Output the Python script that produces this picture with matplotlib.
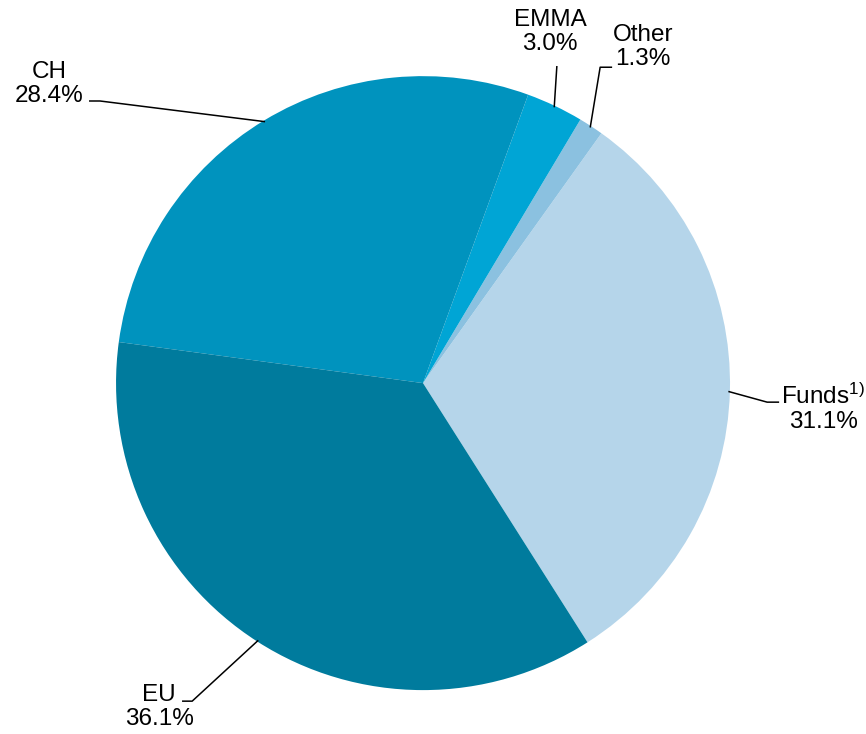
import matplotlib.pyplot as plt
import numpy as np

plt.rcParams['font.family'] = ['Liberation Sans', 'DejaVu Sans']
plt.rcParams['mathtext.default'] = 'regular'

# slice data, counter-clockwise from the Funds/EU border
labels = ['Funds$^{1)}$', 'Other', 'EMMA', 'CH', 'EU']
shares = [31.1, 1.3, 3.0, 28.4, 36.1]
colors = ['#b5d5ea', '#8bc1e0', '#00a5d5', '#0093be', '#007b9d']

# label layout (pie radius = 1): text centre, elbow of leader, end of the short tick
text_pos = [(1.303, -0.081), (0.717, 1.094), (0.414, 1.143), (-1.218, 0.974), (-0.860, -1.055)]
elbow_pos = [(1.121, -0.062), (0.577, 1.029), (0.436, 1.033), (-1.052, 0.919), (-0.752, -1.036)]
tick_end = [(1.160, -0.062), (0.616, 1.029), None, (-1.088, 0.919), (-0.785, -1.036)]

fig = plt.figure(figsize=(8.66, 7.34), dpi=100)
ax = fig.add_axes([0, 0, 1, 1])

wedges, _ = ax.pie(shares, colors=colors, startangle=-57.6, counterclock=True,
                   radius=1, center=(0, 0), wedgeprops=dict(linewidth=0))

for w, lab, val, tp, ep, te in zip(wedges, labels, shares, text_pos, elbow_pos, tick_end):
    mid = np.deg2rad((w.theta1 + w.theta2) / 2)
    sx, sy = np.cos(mid) * 0.995, np.sin(mid) * 0.995
    xs = [sx, ep[0]]
    ys = [sy, ep[1]]
    if te is not None:
        xs.append(te[0])
        ys.append(te[1])
    ax.plot(xs, ys, color='black', lw=1.1, solid_capstyle='butt')
    ax.text(tp[0], tp[1], f'{lab}\n{val:.1f}%', ha='center', va='center',
            fontsize=17.5, linespacing=1.12, color='black')

ax.set_xlim(-1.378, 1.443)
ax.set_ylim(-1.143, 1.248)
ax.set_aspect('equal')
ax.axis('off')

plt.savefig('out.png', dpi=100)
plt.close()
